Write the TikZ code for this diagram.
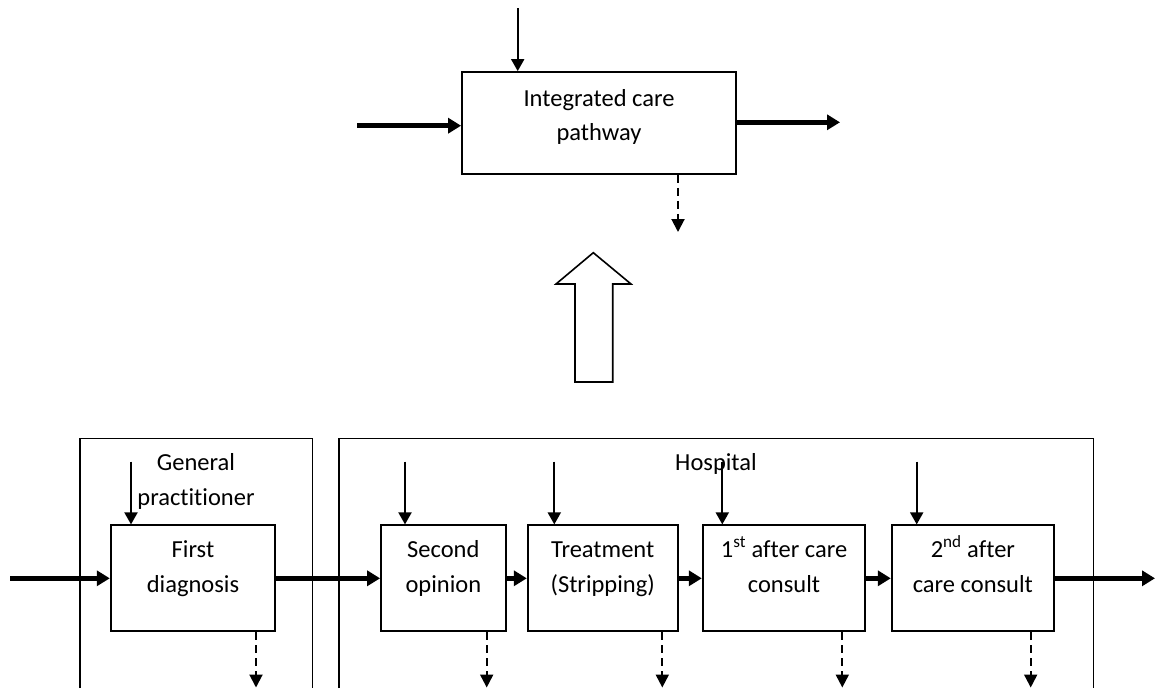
\documentclass[tikz,border=0pt]{standalone}
\usepackage{fontspec}
\setmainfont[Ligatures=NoCommon]{Carlito}
\usetikzlibrary{arrows.meta}
\begin{document}
\begin{tikzpicture}[x=1pt,y=-1pt,
  box/.style={draw, line width=1.8pt, inner sep=0pt, rectangle},
  frame/.style={line width=1.5pt},
  lbl/.style={inner sep=0pt, anchor=base, font=\fontsize{24.5}{35}\selectfont},
  feed/.style={line width=1.9pt, -{Triangle[length=12pt,width=13pt]}},
  flow/.style={line width=4.5pt, -{Triangle[length=13pt,width=15pt]}},
  outp/.style={line width=2pt, dash pattern=on 8pt off 5pt, -{Triangle[length=13pt,width=13pt]}},
]
\useasboundingbox (0,0) rectangle (1155,688);

% ---------- aggregated process ----------
\node[box, minimum width=274pt, minimum height=102pt] (icp) at (599,123) {};
\node[lbl] (icpA) at (599,106) {Integrated care};
\node[lbl] (icpB) at (599,140) {pathway};
\coordinate (icpIn) at (357,125.7);
\coordinate (icpOut) at (840,122.3);
\coordinate (icpCtl) at (517.7,8);
\coordinate (icpMech) at (678,232);
\draw[flow] (icpIn) -- (icpIn -| icp.west);
\draw[flow] (icpOut -| icp.east) -- (icpOut);
\draw[feed] (icpCtl) -- (icpCtl |- icp.north);
\draw[outp] (icpMech |- icp.south) -- (icpMech);

% ---------- hollow up arrow ----------
\draw[line width=1.6pt, line join=miter]
  (575,382) -- (575,284) -- (556,284) -- (593.3,252.7) -- (631,284)
  -- (612.7,284) -- (612.7,382) -- cycle;

% ---------- organisation frames ----------
\draw[frame] (80,688) |- (312.3,438.3) -- (312.3,688);
\draw[frame] (339,688) |- (1093.7,438.3) -- (1093.7,688);
\node[lbl] (gpA) at (196,470) {General};
\node[lbl] (gpB) at (196,505) {practitioner};
\node[lbl] (hosp) at (716,470.7) {Hospital};

% ---------- detailed process steps ----------
\node[box, minimum width=164.6pt, minimum height=106pt] (fd) at (193,578.3) {};
\node[box, minimum width=124.7pt, minimum height=106pt] (so) at (443.35,578.3) {};
\node[box, minimum width=150pt, minimum height=106pt] (tr) at (602.7,578.3) {};
\node[box, minimum width=162.6pt, minimum height=106pt] (ac1) at (784,578.3) {};
\node[box, minimum width=162.3pt, minimum height=106pt] (ac2) at (972.85,578.3) {};

\node[lbl] at (193,557) {First};
\node[lbl] at (193,592) {diagnosis};
\node[lbl] at (443.35,557) {Second};
\node[lbl] at (443.35,592) {opinion};
\node[lbl] at (602.7,557) {Treatment};
\node[lbl] at (602.7,592) {(Stripping)};
\node[lbl] at (784,557) {1\textsuperscript{st} after care};
\node[lbl] at (784,592) {consult};
\node[lbl] at (972.85,557) {2\textsuperscript{nd} after};
\node[lbl] at (972.85,592) {care consult};

% main flow
\coordinate (in) at (10,578.3);
\coordinate (out) at (1155,578.3);
\draw[flow] (in) -- (fd.west);
\draw[flow] (fd.east) -- (so.west);
\draw[flow] (so.east) -- (tr.west);
\draw[flow] (tr.east) -- (ac1.west);
\draw[flow] (ac1.east) -- (ac2.west);
\draw[flow] (ac2.east) -- (out);

% controls from above
\foreach \n/\x in {fd/131, so/405, tr/554.3, ac1/722.3, ac2/916.7}{
  \coordinate (c-\n) at (\x,461.7);
  \draw[feed] (c-\n) -- (c-\n |- \n.north);
}

% mechanisms below
\foreach \n/\x in {fd/256, so/486.7, tr/662.3, ac1/842.3, ac2/1030.7}{
  \coordinate (m-\n) at (\x,687.5);
  \draw[outp] (m-\n |- \n.south) -- (m-\n);
}
\end{tikzpicture}
\end{document}
